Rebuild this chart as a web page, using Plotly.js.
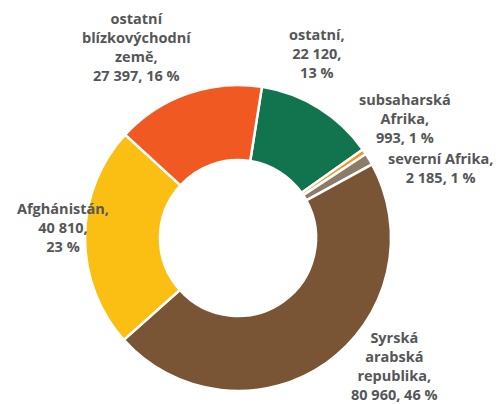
<!DOCTYPE html>
<html>
<head>
<meta charset="utf-8">
<script src="https://cdn.plot.ly/plotly-3.0.1.min.js"></script>
<style>html,body{margin:0;padding:0;background:#fff;}#chart{width:504px;height:404px;}</style>
</head>
<body>
<div id="chart"></div>
<script>
// Data
const categories = ["ostatní", "subsaharská Afrika", "severní Afrika", "Syrská arabská republika", "Afghánistán", "ostatní blízkovýchodní země"];
const values = [22120, 993, 2185, 80960, 40810, 27397];
const colors = ["#12744f", "#f7931e", "#8d7b6a", "#7a5535", "#fbbe12", "#f05a22"];

// Label line layout (how each category name is wrapped)
const nameLines = [
  ["ostatní,"],
  ["subsaharská", "Afrika,"],
  ["severní Afrika,"],
  ["Syrská", "arabská", "republika,"],
  ["Afghánistán,"],
  ["ostatní", "blízkovýchodní", "země,"]
];
const valueLines = [
  v => [v.n + ",", v.p + " %"],
  v => [v.n + ", " + v.p + " %"],
  v => [v.n + ", " + v.p + " %"],
  v => [v.n + ", " + v.p + " %"],
  v => [v.n + ",", v.p + " %"],
  v => [v.n + ", " + v.p + " %"]
];
const labelPos = [[317, 53], [405, 118], [440, 168], [394, 366], [63, 227], [136, 47]];

const total = values.reduce((a, b) => a + b, 0);
function fmt(n) { return String(n).replace(/\B(?=(\d{3})+(?!\d))/g, " "); }

const annotations = categories.map((c, i) => {
  const v = { n: fmt(values[i]), p: Math.round(values[i] / total * 100) };
  const lines = nameLines[i].concat(valueLines[i](v));
  return {
    xref: "paper", yref: "paper",
    x: labelPos[i][0] / 504, y: 1 - labelPos[i][1] / 404,
    xanchor: "center", yanchor: "middle",
    text: lines.join("<br>"),
    showarrow: false, align: "center",
    font: { family: "Open Sans", size: 14.5, color: "#555658", weight: "bold" }
  };
});

const cx = 238, cy = 238, r = 153;
Plotly.newPlot("chart", [{
  type: "pie",
  labels: categories,
  values: values,
  hole: 0.51,
  sort: false,
  direction: "clockwise",
  rotation: 9,
  textinfo: "none",
  hoverinfo: "none",
  marker: { colors: colors, line: { color: "#ffffff", width: 2.5 } },
  domain: { x: [(cx - r) / 504, (cx + r) / 504], y: [1 - (cy + r) / 404, 1 - (cy - r) / 404] }
}], {
  width: 504, height: 404,
  margin: { l: 0, r: 0, t: 0, b: 0 },
  showlegend: false,
  paper_bgcolor: "#ffffff",
  annotations: annotations
}, { staticPlot: true });
</script>
</body>
</html>
